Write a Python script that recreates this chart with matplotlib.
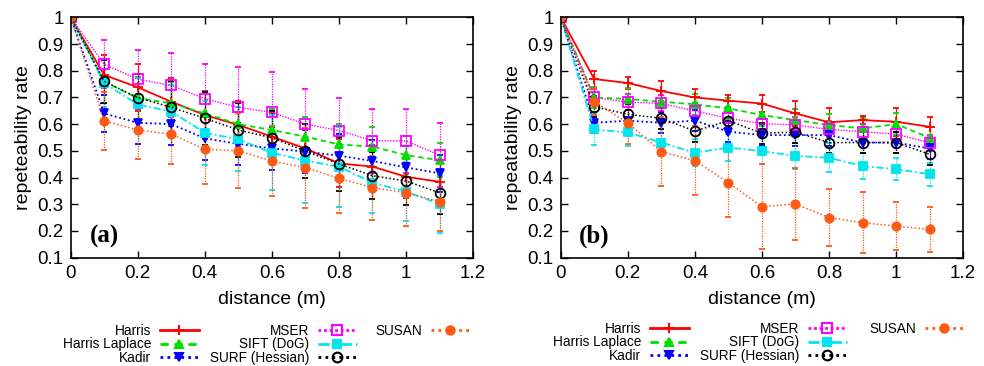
import matplotlib
matplotlib.use("Agg")
import matplotlib.pyplot as plt
from matplotlib.lines import Line2D
from matplotlib.ticker import FuncFormatter, MultipleLocator

plt.rcParams['font.family'] = ['Liberation Sans', 'DejaVu Sans']

distance = [0.0, 0.1, 0.2, 0.3, 0.4, 0.5, 0.6, 0.7, 0.8, 0.9, 1.0, 1.1]
names = ["Harris", "Harris Laplace", "Kadir", "MSER", "SIFT (DoG)", "SURF (Hessian)", "SUSAN"]

# panel (a)
a_harris = [1, 0.784, 0.738, 0.684, 0.634, 0.597, 0.553, 0.509, 0.453, 0.441, 0.403, 0.384]
a_harrislap = [1, 0.760, 0.697, 0.678, 0.640, 0.600, 0.578, 0.553, 0.524, 0.516, 0.484, 0.465]
a_kadir = [1, 0.640, 0.605, 0.600, 0.547, 0.526, 0.509, 0.497, 0.482, 0.462, 0.438, 0.416]
a_mser = [1, 0.824, 0.768, 0.745, 0.695, 0.663, 0.644, 0.600, 0.576, 0.538, 0.537, 0.484]
a_sift = [1, 0.753, 0.674, 0.647, 0.568, 0.543, 0.493, 0.463, 0.441, 0.381, 0.347, 0.301]
a_surf = [1, 0.760, 0.699, 0.663, 0.622, 0.578, 0.549, 0.499, 0.451, 0.407, 0.387, 0.343]
a_susan = [1, 0.612, 0.578, 0.562, 0.506, 0.500, 0.462, 0.437, 0.397, 0.362, 0.343, 0.310]

a_harris_err = [0, 0.076, 0.087, 0.09, 0.09, 0.09, 0.09, 0.09, 0.09, 0.08, 0.08, 0.08]
a_harrislap_err = [0, 0.08, 0.08, 0.08, 0.08, 0.08, 0.08, 0.075, 0.075, 0.074, 0.07, 0.063]
a_kadir_err = [0, 0.07, 0.08, 0.08, 0.08, 0.08, 0.08, 0.08, 0.08, 0.08, 0.08, 0.07]
a_mser_err = [0, 0.09, 0.11, 0.12, 0.13, 0.15, 0.15, 0.13, 0.12, 0.12, 0.12, 0.12]
a_sift_err = [0, 0.09, 0.10, 0.10, 0.12, 0.12, 0.14, 0.157, 0.15, 0.113, 0.11, 0.11]
a_surf_err = [0, 0.08, 0.09, 0.10, 0.10, 0.10, 0.10, 0.10, 0.10, 0.087, 0.09, 0.08]
a_susan_err = [0, 0.11, 0.11, 0.11, 0.13, 0.14, 0.13, 0.15, 0.13, 0.12, 0.125, 0.11]

# panel (b)
b_harris = [1, 0.769, 0.754, 0.724, 0.700, 0.688, 0.677, 0.640, 0.607, 0.615, 0.609, 0.590]
b_harrislap = [1, 0.700, 0.694, 0.684, 0.674, 0.659, 0.634, 0.615, 0.597, 0.584, 0.600, 0.549]
b_kadir = [1, 0.605, 0.613, 0.605, 0.613, 0.572, 0.559, 0.559, 0.559, 0.531, 0.531, 0.509]
b_mser = [1, 0.700, 0.682, 0.678, 0.649, 0.622, 0.602, 0.597, 0.580, 0.572, 0.562, 0.531]
b_sift = [1, 0.580, 0.569, 0.531, 0.493, 0.512, 0.499, 0.481, 0.474, 0.443, 0.431, 0.413]
b_surf = [1, 0.665, 0.637, 0.622, 0.574, 0.613, 0.566, 0.570, 0.531, 0.531, 0.531, 0.487]
b_susan = [1, 0.684, 0.605, 0.497, 0.463, 0.381, 0.291, 0.301, 0.250, 0.231, 0.218, 0.206]

b_harris_err = [0, 0.03, 0.024, 0.036, 0.031, 0.022, 0.032, 0.048, 0.052, 0.015, 0.053, 0.037]
b_harrislap_err = [0, 0.04, 0.04, 0.04, 0.04, 0.04, 0.04, 0.04, 0.04, 0.04, 0.04, 0.04]
b_kadir_err = [0, 0.04, 0.04, 0.04, 0.04, 0.04, 0.04, 0.04, 0.04, 0.04, 0.04, 0.04]
b_mser_err = [0, 0.03, 0.03, 0.03, 0.03, 0.03, 0.03, 0.03, 0.03, 0.03, 0.03, 0.03]
b_sift_err = [0, 0.058, 0.05, 0.05, 0.05, 0.05, 0.05, 0.05, 0.055, 0.05, 0.042, 0.043]
b_surf_err = [0, 0.04, 0.04, 0.04, 0.04, 0.04, 0.04, 0.04, 0.04, 0.04, 0.04, 0.04]
b_susan_err = [0, 0.05, 0.08, 0.13, 0.13, 0.13, 0.16, 0.133, 0.107, 0.115, 0.09, 0.085]

panels = [
    ("(a)", "repeteability rate",
     [a_harris, a_harrislap, a_kadir, a_mser, a_sift, a_surf, a_susan],
     [a_harris_err, a_harrislap_err, a_kadir_err, a_mser_err, a_sift_err, a_surf_err, a_susan_err]),
    ("(b)", "repeatability rate",
     [b_harris, b_harrislap, b_kadir, b_mser, b_sift, b_surf, b_susan],
     [b_harris_err, b_harrislap_err, b_kadir_err, b_mser_err, b_sift_err, b_surf_err, b_susan_err]),
]

styles = [
    dict(color="#ff0000", ls="-", marker="+", mfc="#ff0000", ms=7, lw=1.3),
    dict(color="#00e000", ls=(0, (3, 2)), marker="^", mfc="#00e000", ms=6, lw=1.3),
    dict(color="#0000ff", ls=(0, (1, 1.5)), marker="v", mfc="#0000ff", ms=6, lw=1.3),
    dict(color="#ff00ff", ls=(0, (1, 1)), marker="s", mfc="none", ms=7, lw=1.0),
    dict(color="#00e5ee", ls=(0, (4, 1.5, 1, 1.5)), marker="s", mfc="#00e5ee", ms=6, lw=1.3),
    dict(color="#000000", ls=(0, (1, 1.5)), marker="o", mfc="none", ms=7, lw=1.1),
    dict(color="#ff5a14", ls=(0, (1, 1.5)), marker="o", mfc="#ff5a14", ms=6, lw=1.1),
]

W, H = 984.0, 366.0
fig = plt.figure(figsize=(9.84, 3.66), dpi=100)
lefts = [0.0718, 0.5698]
# right edges (pixels) of the three legend columns and legend top for each panel
legend_right = [[199, 357, 470], [689, 847, 964]]
legend_top = [324, 322]
fmt = FuncFormatter(lambda v, p: ("%g" % round(v, 2)))

for (tag, ylab, series, errs), left, lrights, ltop in zip(panels, lefts, legend_right, legend_top):
    ax = fig.add_axes([left, 0.296, 0.409, 0.6567])
    for vals, err, st in zip(series, errs, styles):
        c = ax.errorbar(distance, vals, yerr=err, color=st["color"], ls=st["ls"],
                        lw=st["lw"], marker=st["marker"], mfc=st["mfc"], mec=st["color"],
                        ms=st["ms"], mew=1.3, capsize=2, elinewidth=0.9, ecolor=st["color"])
        for bl in c[2]:
            if st["ls"] != "-":
                bl.set_linestyle((0, (1, 1)))
    ax.set_xlim(0, 1.2)
    ax.set_ylim(0.1, 1.0)
    ax.xaxis.set_major_locator(MultipleLocator(0.2))
    ax.yaxis.set_major_locator(MultipleLocator(0.1))
    ax.xaxis.set_major_formatter(fmt)
    ax.yaxis.set_major_formatter(fmt)
    ax.tick_params(direction="in", top=True, right=True, length=5, width=1,
                   labelsize=13.5, pad=5)
    for sp in ax.spines.values():
        sp.set_linewidth(1.2)
    ax.set_xlabel("distance (m)", fontsize=14, labelpad=7)
    ax.set_ylabel(ylab, fontsize=14, labelpad=4)
    ax.text(0.10, 0.18, tag, fontsize=18, fontweight="bold",
            family=["Liberation Serif", "DejaVu Serif"], ha="center", va="center")

    handles = []
    for st, nm in zip(styles, names):
        handles.append(Line2D([], [], color=st["color"], ls=st["ls"], lw=2,
                              marker=st["marker"], mfc=st["mfc"], mec=st["color"],
                              ms=st["ms"], mew=1.5, label=nm))
    groups = [handles[0:3], handles[3:6], handles[6:7]]
    for grp, xr in zip(groups, lrights):
        fig.legend(handles=grp, ncol=1, markerfirst=False, frameon=False,
                   loc="upper right", bbox_to_anchor=(xr / W, 1 - ltop / H),
                   fontsize=9.8, handlelength=2.9, labelspacing=-0.05,
                   handletextpad=0.6, borderaxespad=0, borderpad=0)

fig.savefig("out.png", dpi=100)
